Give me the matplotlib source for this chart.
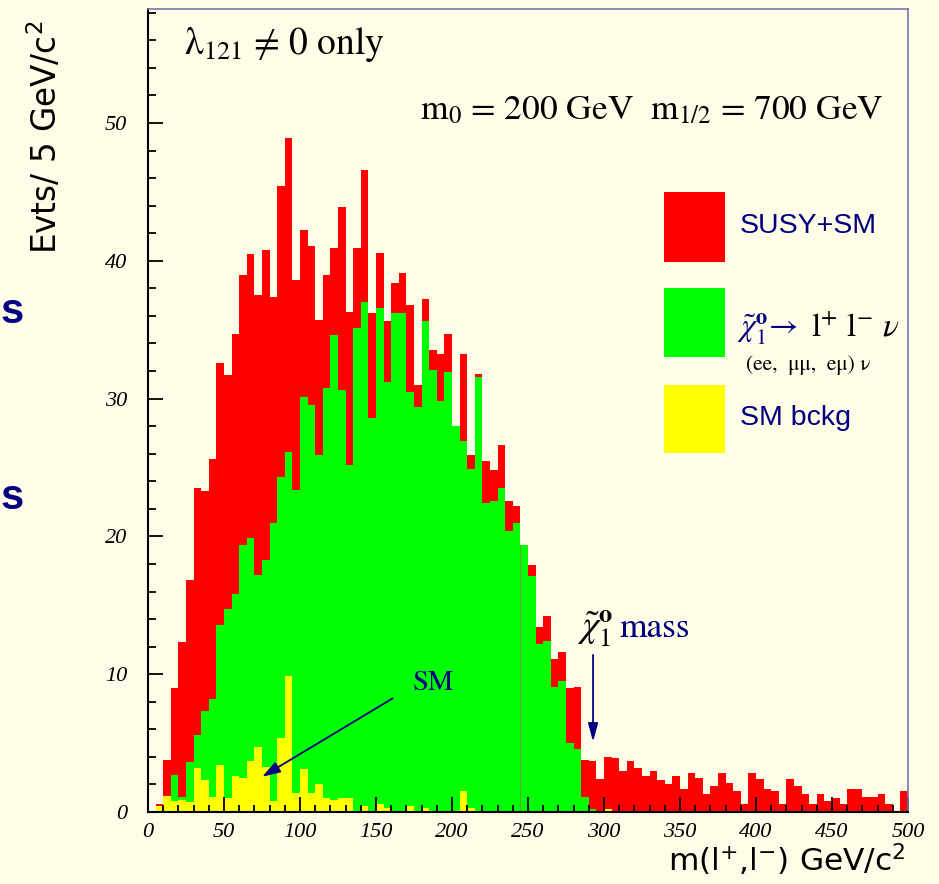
import matplotlib
matplotlib.use('Agg')
import matplotlib.pyplot as plt
import numpy as np
from matplotlib.patches import Rectangle
from matplotlib.ticker import MultipleLocator

# ---------------- data ----------------
bin_edges = np.arange(0, 505, 5)   # 5 GeV bins, 0..500

susy_sm = [0.0, 0.6, 3.8, 9.0, 12.3, 16.8, 23.5, 23.3, 25.6, 32.6,
           31.7, 34.7, 39.0, 40.5, 37.5, 40.8, 37.4, 45.4, 48.9, 38.6,
           42.2, 41.1, 35.7, 39.0, 40.9, 43.9, 36.3, 40.9, 46.6, 36.2,
           40.6, 35.6, 38.4, 39.1, 36.8, 31.0, 37.2, 33.5, 33.2, 34.7,
           28.0, 33.2, 25.9, 31.8, 25.5, 24.8, 26.6, 22.6, 22.2, 19.4,
           17.9, 13.4, 14.2, 11.1, 11.6, 9.0, 9.1, 3.8, 3.7, 2.4,
           4.0, 3.9, 3.0, 3.7, 3.2, 2.6, 3.0, 2.3, 2.0, 2.6,
           1.7, 2.8, 2.5, 1.3, 1.9, 2.8, 2.1, 1.5, 0.6, 2.8,
           2.4, 1.7, 1.5, 0.6, 2.4, 1.9, 1.3, 0.6, 1.3, 0.8,
           1.0, 0.6, 1.7, 1.7, 1.1, 1.1, 1.3, 0.6, 0.1, 1.5]

chi_llnu = [0.0, 0.0, 1.0, 2.7, 1.1, 3.6, 5.6, 7.3, 8.2, 13.6,
            14.7, 15.8, 19.4, 19.9, 17.2, 18.3, 21.0, 24.3, 26.1, 23.4,
            30.1, 29.5, 25.9, 30.8, 34.6, 30.6, 25.2, 35.1, 37.0, 28.6,
            36.6, 31.2, 36.2, 36.2, 30.5, 29.4, 35.6, 32.1, 29.8, 31.9,
            28.0, 26.9, 24.9, 31.6, 22.4, 22.6, 23.5, 20.4, 21.0, 19.4,
            17.1, 12.2, 12.4, 9.1, 9.5, 5.0, 4.6, 1.1, 0.2, 0.0] + [0.0] * 40

sm_bckg = [0.0, 0.4, 1.16, 0.8, 0.85, 0.75, 3.2, 2.3, 1.1, 3.4,
           1.0, 2.6, 2.5, 3.7, 4.7, 3.3, 0.8, 5.4, 9.9, 1.35,
           3.1, 1.4, 2.0, 1.04, 0.84, 1.0, 1.04, 0.0, 0.43, 0.0,
           0.6, 0.3, 0.0, 0.0, 0.4, 0.0, 0.3, 0.1, 0.0, 0.0,
           0.0, 1.5, 0.3, 0.0, 0.0, 0.0, 0.0, 0.0, 0.0, 0.0,
           0.0, 0.0, 0.0, 0.0, 0.0, 0.0, 0.0, 0.0, 0.0, 0.0,
           0.25] + [0.0] * 39

cut_mass = 245          # thin vertical line
cut_height = 19.4
chi_mass = 292.8        # neutralino mass arrow position

legend_labels = ["SUSY+SM", "SM bckg"]

# ---------------- style ----------------
BG = '#FFFDE8'
NAVY = '#000080'
FRAME = '#7478B0'

plt.rcParams['mathtext.fontset'] = 'stix'

fig = plt.figure(figsize=(9.39, 8.84), dpi=100, facecolor=BG)
ax = fig.add_axes([148/939, 1-812/884, (908-148)/939, (812-9)/884])
ax.set_facecolor(BG)

ax.stairs(susy_sm, bin_edges, fill=True, color='#FF0000', linewidth=0)
ax.stairs(chi_llnu, bin_edges, fill=True, color='#00FF00', linewidth=0)
ax.stairs(sm_bckg, bin_edges, fill=True, color='#FFFF00', linewidth=0)
ax.plot([cut_mass, cut_mass], [0, cut_height], color='#58A832', lw=0.8)

ax.set_xlim(0, 500)
ax.set_ylim(0, 58.27)

ax.xaxis.set_major_locator(MultipleLocator(50))
ax.xaxis.set_minor_locator(MultipleLocator(10))
ax.yaxis.set_major_locator(MultipleLocator(10))
ax.yaxis.set_minor_locator(MultipleLocator(2))
ax.tick_params(which='both', direction='in', top=False, right=False, color='black', width=1.3)
ax.tick_params(axis='y', which='major', length=11, pad=15)
ax.tick_params(axis='y', which='minor', length=6)
ax.tick_params(axis='x', which='major', length=11, pad=8)
ax.tick_params(axis='x', which='minor', length=5)
for lab in ax.get_xticklabels() + ax.get_yticklabels():
    lab.set_fontfamily('Liberation Serif')
    lab.set_fontstyle('italic')
    lab.set_fontsize(16)

for s in ['left', 'bottom']:
    ax.spines[s].set_color('black')
    ax.spines[s].set_linewidth(1.5)
for s in ['top', 'right']:
    ax.spines[s].set_color(FRAME)
    ax.spines[s].set_linewidth(1.2)

# axis titles
fig.text(45/939, 1-137/884, r'Evts/ 5 GeV/c$^{2}$', rotation=90, ha='center', va='center',
         fontsize=23.5, family='DejaVu Sans', math_fontfamily='dejavusans', color='black')
fig.text(906/939, 1-860/884, r'm(l$^{+}$,l$^{-}$) GeV/c$^{2}$', ha='right', va='center',
         fontsize=22.5, family='DejaVu Sans', math_fontfamily='dejavusans', color='black')

# left letters (partly visible in the source slide)
fig.text(1/939, 1-312/884, 's', ha='left', va='center', fontsize=30, fontweight='bold',
         family='Liberation Sans', color=NAVY)
fig.text(1/939, 1-498/884, 's', ha='left', va='center', fontsize=30, fontweight='bold',
         family='Liberation Sans', color=NAVY)

# header texts
ax.text(24, 55.0, '\u03bb$_{121}$ \u2260 0 only', fontsize=27, family='STIXGeneral',
        math_fontfamily='stix', ha='left', va='baseline')
ax.text(179, 50.3, r'm$_{0}$ = 200 GeV  m$_{1/2}$ = 700 GeV', fontsize=25.5, family='STIXGeneral',
        math_fontfamily='stix', ha='left', va='baseline')

# legend boxes
ax.add_patch(Rectangle((339.5, 39.9), 40, 5.1, color='#FF0000', lw=0))
ax.add_patch(Rectangle((339.5, 33.0), 40, 5.0, color='#00FF00', lw=0))
ax.add_patch(Rectangle((339.5, 26.05), 40, 4.95, color='#FFFF00', lw=0))
ax.text(389.5, 42.5, legend_labels[0], fontsize=20.5, family='Liberation Sans', color=NAVY,
        ha='left', va='center')
ax.text(389.5, 28.6, legend_labels[1], fontsize=20.5, family='Liberation Sans', color=NAVY,
        ha='left', va='center')
ax.text(387.5, 34.5, r'$\tilde{\chi}^{\mathbf{o}}_{1}\!\rightarrow$', fontsize=23, color=NAVY,
        math_fontfamily='stix', ha='left', va='baseline')
ax.text(436, 34.5, r'l$^{+}$ l$^{-}$ $\nu$', fontsize=24, family='STIXGeneral', color='black',
        math_fontfamily='stix', ha='left', va='baseline')
ax.text(393.5, 32.1, '(ee,  \u03bc\u03bc,  e\u03bc) \u03bd', fontsize=15.5, family='STIXGeneral',
        color='black', ha='left', va='baseline')

# annotations
ax.text(187.5, 9.3, 'SM', fontsize=20.5, family='STIXGeneral', color=NAVY, ha='center', va='center')
ax.annotate('', xy=(73.5, 2.45), xytext=(162.5, 8.35),
            arrowprops=dict(arrowstyle='-|>,head_length=1.1,head_width=0.35', color=NAVY, lw=1.3))
ax.text(282, 12.7, r'$\tilde{\chi}^{\mathbf{o}}_{1}$', fontsize=27, color='black',
        math_fontfamily='stix', ha='left', va='baseline')
ax.text(310, 12.7, 'mass', fontsize=25.5, family='STIXGeneral', color=NAVY, ha='left', va='baseline')
ax.annotate('', xy=(chi_mass, 4.9), xytext=(chi_mass, 11.6),
            arrowprops=dict(arrowstyle='-|>,head_length=1.1,head_width=0.3', color=NAVY, lw=1.3))

fig.savefig('out.png', dpi=100, facecolor=BG)
